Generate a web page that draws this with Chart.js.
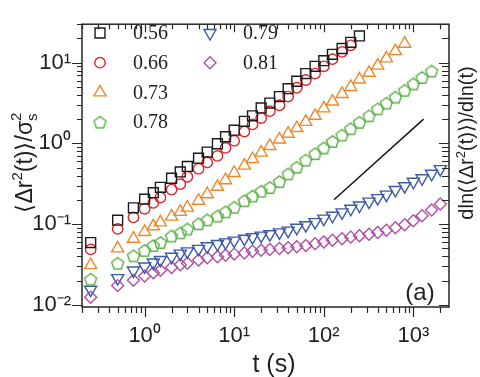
<!DOCTYPE html>
<html>
<head>
<meta charset="utf-8">
<script src="https://cdn.jsdelivr.net/npm/chart.js@4.4.1/dist/chart.umd.min.js"></script>
<style>
  html, body { margin: 0; padding: 0; background: #fff; }
</style>
</head>
<body>
<canvas id="msd" width="480" height="377"></canvas>
<script>
// lag times (s)
const times = [0.25, 0.5, 0.75, 1, 1.25, 1.5, 2, 2.5, 3, 4, 5, 6.5, 8, 10, 13, 16, 20, 25, 32, 40,
  50, 63, 80, 100, 125, 160, 200, 250, 320, 400, 500, 630, 800, 1000, 1250, 1600, 2000];

// <Δr²(t)>/σs² for each area fraction (series stop where the data stop)
const phiLabels = ["0.56", "0.66", "0.73", "0.78", "0.79", "0.81"];
const msd056 = [0.059, 0.112, 0.159, 0.204, 0.245, 0.286, 0.37, 0.443, 0.518, 0.657, 0.781, 0.99, 1.21, 1.46,
  1.88, 2.2, 2.75, 3.16, 3.8, 4.77, 5.89, 7.33, 9.03, 10.6, 12.7, 15.0, 17.9, 21.5];
const msd066 = [0.0486, 0.0872, 0.121, 0.155, 0.183, 0.214, 0.268, 0.313, 0.386, 0.486, 0.582, 0.70, 0.879, 1.08,
  1.40, 1.72, 2.06, 2.51, 2.97, 3.8, 4.9, 6.11, 7.33, 9.03, 11.07, 13.6, 16.4];
const msd073 = [0.031, 0.050, 0.066, 0.080, 0.094, 0.105, 0.124, 0.142, 0.160, 0.195, 0.235, 0.29, 0.35, 0.43,
  0.53, 0.64, 0.77, 0.93, 1.12, 1.32, 1.55, 1.85, 2.2, 2.72, 3.3, 4.1, 5.0, 6.2, 7.5, 9.2, 11.3, 13.9, 17.2];
const msd078 = [0.0208, 0.0328, 0.0405, 0.0473, 0.0542, 0.0594, 0.0713, 0.078, 0.0871, 0.101, 0.113, 0.126, 0.142, 0.162,
  0.195, 0.223, 0.256, 0.285, 0.337, 0.42, 0.508, 0.622, 0.746, 0.879, 1.06, 1.27, 1.52, 1.83, 2.2, 2.68,
  3.16, 3.75, 4.56, 5.47, 6.57, 7.88];
const msd079 = [0.0154, 0.0214, 0.0266, 0.0299, 0.0334, 0.036, 0.0394, 0.0431, 0.046, 0.0494, 0.0532, 0.0567, 0.0594, 0.0625,
  0.066, 0.069, 0.072, 0.075, 0.079, 0.083, 0.09, 0.097, 0.106, 0.117, 0.127, 0.14, 0.155, 0.17, 0.19, 0.21,
  0.232, 0.265, 0.295, 0.335, 0.37, 0.42, 0.48];
const msd081 = [0.0124, 0.0173, 0.0202, 0.0228, 0.0249, 0.0268, 0.0291, 0.0314, 0.0328, 0.036, 0.0383, 0.0394, 0.0412, 0.0425,
  0.044, 0.046, 0.0473, 0.0486, 0.050, 0.051, 0.0525, 0.0545, 0.057, 0.060, 0.063, 0.066, 0.069, 0.072, 0.075, 0.079,
  0.084, 0.09, 0.098, 0.11, 0.127, 0.15, 0.178];

// slope-1 guide line
const guideT = [130, 1300];
const guideY = [0.2, 2.0];

const xRange = [0.2, 2500];
const yRange = [0.0094, 30];

const SANS = '"Liberation Sans", Arial, sans-serif';
const SERIF = '"Liberation Serif", "Times New Roman", serif';

function pentagonMarker(color, r) {
  const c = document.createElement("canvas");
  const s = Math.ceil(2 * r + 4);
  c.width = s; c.height = s;
  const g = c.getContext("2d");
  g.strokeStyle = color;
  g.lineWidth = 1.4;
  g.beginPath();
  for (let i = 0; i < 5; i++) {
    const a = -Math.PI / 2 + i * 2 * Math.PI / 5;
    const px = s / 2 + r * Math.cos(a), py = s / 2 + r * Math.sin(a) + r * 0.1;
    if (i) g.lineTo(px, py); else g.moveTo(px, py);
  }
  g.closePath();
  g.stroke();
  return c;
}

const styles = [
  { color: "#1a1a1a", pointStyle: "rect", radius: 7, rotation: 0 },
  { color: "#e0242b", pointStyle: "circle", radius: 5.2, rotation: 0 },
  { color: "#f0882a", pointStyle: "triangle", radius: 7, rotation: 0 },
  { color: "#5cb045", pointStyle: pentagonMarker("#5cb045", 6.3), radius: 6.3, rotation: 0 },
  { color: "#3c5aa6", pointStyle: "triangle", radius: 7, rotation: 180 },
  { color: "#b050a8", pointStyle: "rectRot", radius: 6, rotation: 0 }
];
const seriesValues = [msd056, msd066, msd073, msd078, msd079, msd081];

const datasets = seriesValues.map((vals, i) => ({
  label: phiLabels[i],
  data: vals.map((v, k) => ({ x: times[k], y: v })),
  showLine: false,
  pointStyle: styles[i].pointStyle,
  pointRadius: styles[i].radius,
  pointRotation: styles[i].rotation,
  pointBorderColor: styles[i].color,
  pointBackgroundColor: "rgba(0,0,0,0)",
  pointBorderWidth: 1.4,
  borderColor: styles[i].color
}));

datasets.push({
  label: "slope 1",
  data: guideT.map((t, k) => ({ x: t, y: guideY[k] })),
  showLine: true,
  borderColor: "#111",
  borderWidth: 1.4,
  pointRadius: 0
});

function logSteps(min, max) {
  const out = [];
  for (let e = Math.floor(Math.log10(min)); e <= Math.ceil(Math.log10(max)); e++) {
    for (let k = 1; k < 10; k++) {
      const v = k * Math.pow(10, e);
      if (v >= min * 0.999 && v <= max * 1.001) out.push([v, k === 1]);
    }
  }
  return out;
}

const SUP = { "0": "\u2070", "1": "\u00b9", "2": "\u00b2", "3": "\u00b3", "-": "\u207b" };
function powLabel(v) {
  const e = Math.log10(v);
  if (Math.abs(e - Math.round(e)) > 1e-6) return "";
  return "10" + String(Math.round(e)).split("").map(c => SUP[c]).join("");
}

// draws the pieces of a label, [text, font, dy, noAdvance]
function drawPieces(ctx, pieces, cx, cy, rot) {
  ctx.save();
  ctx.translate(cx, cy);
  ctx.rotate(rot);
  let total = 0;
  pieces.forEach(p => { ctx.font = p[1]; if (!p[3]) total += ctx.measureText(p[0]).width; });
  let x = -total / 2;
  ctx.textBaseline = "alphabetic";
  ctx.fillStyle = "#1f1f1f";
  pieces.forEach(p => {
    ctx.font = p[1];
    ctx.fillText(p[0], x, p[2]);
    if (!p[3]) x += ctx.measureText(p[0]).width;
  });
  ctx.restore();
}

const framePlugin = {
  id: "framePlugin",
  afterDatasetsDraw(chart) {
    const { ctx, chartArea: a, scales: { x, y } } = chart;
    ctx.save();
    ctx.strokeStyle = "#262626";
    ctx.lineWidth = 1.5;
    ctx.strokeRect(a.left, a.top, a.right - a.left, a.bottom - a.top);
    ctx.lineWidth = 1.2;
    ctx.beginPath();
    logSteps(x.min, x.max).forEach(([v, major]) => {
      const px = Math.round(x.getPixelForValue(v)) + 0.5;
      ctx.moveTo(px, a.bottom); ctx.lineTo(px, a.bottom + (major ? 10 : 6));
      ctx.moveTo(px, a.top); ctx.lineTo(px, a.top + (major ? 8 : 5));
    });
    logSteps(y.min, y.max).forEach(([v, major]) => {
      const py = Math.round(y.getPixelForValue(v)) + 0.5;
      ctx.moveTo(a.left, py); ctx.lineTo(a.left - (major ? 10 : 5), py);
      ctx.moveTo(a.right, py); ctx.lineTo(a.right - (major ? 10 : 7), py);
    });
    ctx.stroke();
    ctx.restore();
  },
  afterDraw(chart) {
    const ctx = chart.ctx;
    // legend in two columns
    ctx.save();
    datasets.slice(0, 6).forEach((ds, i) => {
      const col = i < 4 ? 0 : 1, row = i % 4;
      const mx = col ? 210 : 100, my = 33 + row * 29.7;
      ctx.strokeStyle = styles[i].color;
      ctx.fillStyle = "rgba(0,0,0,0)";
      ctx.lineWidth = 1.4;
      Chart.helpers.drawPoint(ctx, {
        pointStyle: styles[i].pointStyle, radius: styles[i].radius,
        rotation: styles[i].rotation, borderWidth: 1.4
      }, mx, my);
      ctx.fillStyle = "#1f1f1f";
      ctx.font = "20px " + SERIF;
      ctx.textBaseline = "middle";
      ctx.textAlign = "left";
      ctx.fillText(ds.label, mx + 33, my + 1);
    });
    ctx.restore();

    // axis titles
    const big = "23px " + SANS, sm = "15px " + SANS;
    drawPieces(ctx, [["\u27e8\u0394r", big, 0], ["2", sm, -10], ["(t)\u27e9/\u03c3", big, 0],
      ["2", sm, -11, true], ["s", sm, 5]], 32, 163, -Math.PI / 2);
    const rb = "20px " + SANS, rs = "13px " + SANS;
    drawPieces(ctx, [["dln(\u27e8\u0394r", rb, 0], ["2", rs, -8], ["(t)\u27e9)/dln(t)", rb, 0]],
      473, 143, -Math.PI / 2);
    drawPieces(ctx, [["t (s)", "25px " + SANS, 0]], 274, 372, 0);
    drawPieces(ctx, [["(a)", "24px " + SANS, 0]], 420, 300, 0);
  }
};

new Chart(document.getElementById("msd"), {
  type: "scatter",
  data: { datasets },
  options: {
    responsive: false,
    devicePixelRatio: 1,
    animation: false,
    events: [],
    layout: { padding: { left: 0, top: 13, right: 31, bottom: 0 } },
    plugins: { legend: { display: false }, tooltip: { enabled: false } },
    scales: {
      x: {
        type: "logarithmic",
        min: xRange[0], max: xRange[1],
        grid: { display: false, drawTicks: false },
        border: { display: false },
        afterFit: s => { s.height = 70; },
        ticks: {
          autoSkip: false, maxRotation: 0, padding: 16,
          color: "#1f1f1f", font: { family: SANS, size: 22 },
          callback: v => powLabel(v)
        }
      },
      y: {
        type: "logarithmic",
        min: yRange[0], max: yRange[1],
        grid: { display: false, drawTicks: false },
        border: { display: false },
        afterFit: s => { s.width = 82; },
        ticks: {
          autoSkip: false, padding: 11,
          color: "#1f1f1f", font: { family: SANS, size: 22 },
          callback: v => powLabel(v)
        }
      }
    }
  },
  plugins: [framePlugin]
});
</script>
</body>
</html>
